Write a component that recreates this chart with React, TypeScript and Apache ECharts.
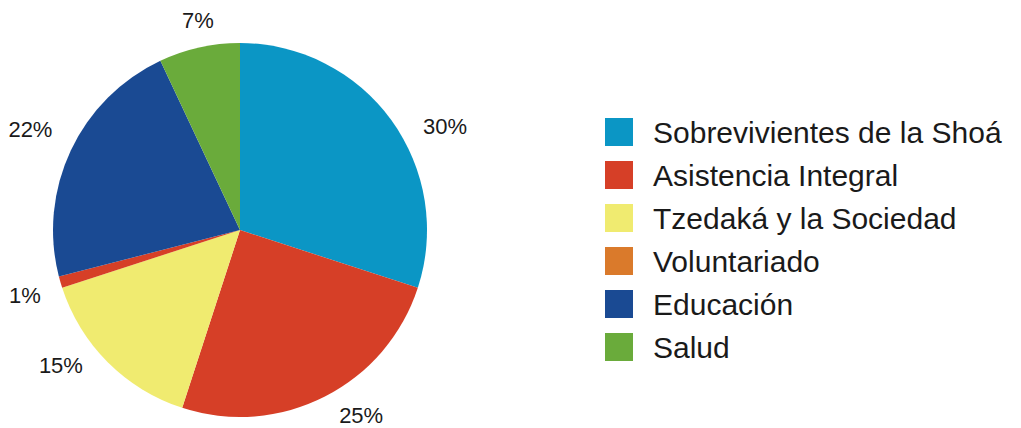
import React, { useEffect, useRef } from "react";
import * as echarts from "echarts";

const categories = [
  "Sobrevivientes de la Shoá",
  "Asistencia Integral",
  "Tzedaká y la Sociedad",
  "Voluntariado",
  "Educación",
  "Salud",
];
const values = [30, 25, 15, 1, 22, 7];
const sliceColors = ["#0b96c5", "#d63f27", "#f0eb70", "#d63f27", "#1a4a93", "#6aab3b"];
const legendColors = ["#0b96c5", "#d63f27", "#f0eb70", "#da7a2b", "#1a4a93", "#6aab3b"];
const labelOffsets: [number, number][] = [
  [23, 29],
  [19, -15],
  [-20, -24],
  [1, 3],
  [-6, -5],
  [7, 10],
];

export default function App() {
  const ref = useRef<HTMLDivElement>(null);
  useEffect(() => {
    if (!ref.current) return;
    const chart = echarts.init(ref.current, null, { renderer: "svg" });
    const font = "'Liberation Sans', Arial, Helvetica, sans-serif";
    chart.setOption({
      animation: false,
      backgroundColor: "#ffffff",
      legend: {
        orient: "vertical",
        left: 605,
        top: 117,
        padding: 0,
        itemWidth: 28,
        itemHeight: 28,
        itemGap: 13,
        icon: "rect",
        selectedMode: false,
        textStyle: { fontSize: 30, color: "#1a1a1a", fontFamily: font, padding: [0, 0, 0, 15] },
        data: categories.map((c, i) => ({ name: c, itemStyle: { color: legendColors[i] } })),
      },
      series: [
        {
          type: "pie",
          center: [240, 230],
          radius: [0, 187],
          startAngle: 90,
          clockwise: true,
          label: { show: false },
          labelLine: { show: false },
          silent: true,
          data: categories.map((c, i) => ({
            name: c,
            value: values[i],
            itemStyle: { color: sliceColors[i] },
          })),
        },
        {
          type: "pie",
          center: [240, 230],
          radius: [190, 254],
          startAngle: 90,
          clockwise: true,
          silent: true,
          legendHoverLink: false,
          itemStyle: { color: "rgba(0,0,0,0)" },
          labelLine: { show: false },
          data: categories.map((c, i) => ({
            name: c + " ",
            value: values[i],
            label: {
              show: true,
              position: "inside",
              formatter: "{c}%",
              fontSize: 22,
              lineHeight: 22,
              color: "#1a1a1a",
              fontFamily: font,
              rotate: 0,
              offset: labelOffsets[i],
            },
          })),
        },
      ],
    });
    return () => chart.dispose();
  }, []);
  return (
    <div
      ref={ref}
      style={{ position: "fixed", left: 0, top: 0, width: 1021, height: 428 }}
    />
  );
}
